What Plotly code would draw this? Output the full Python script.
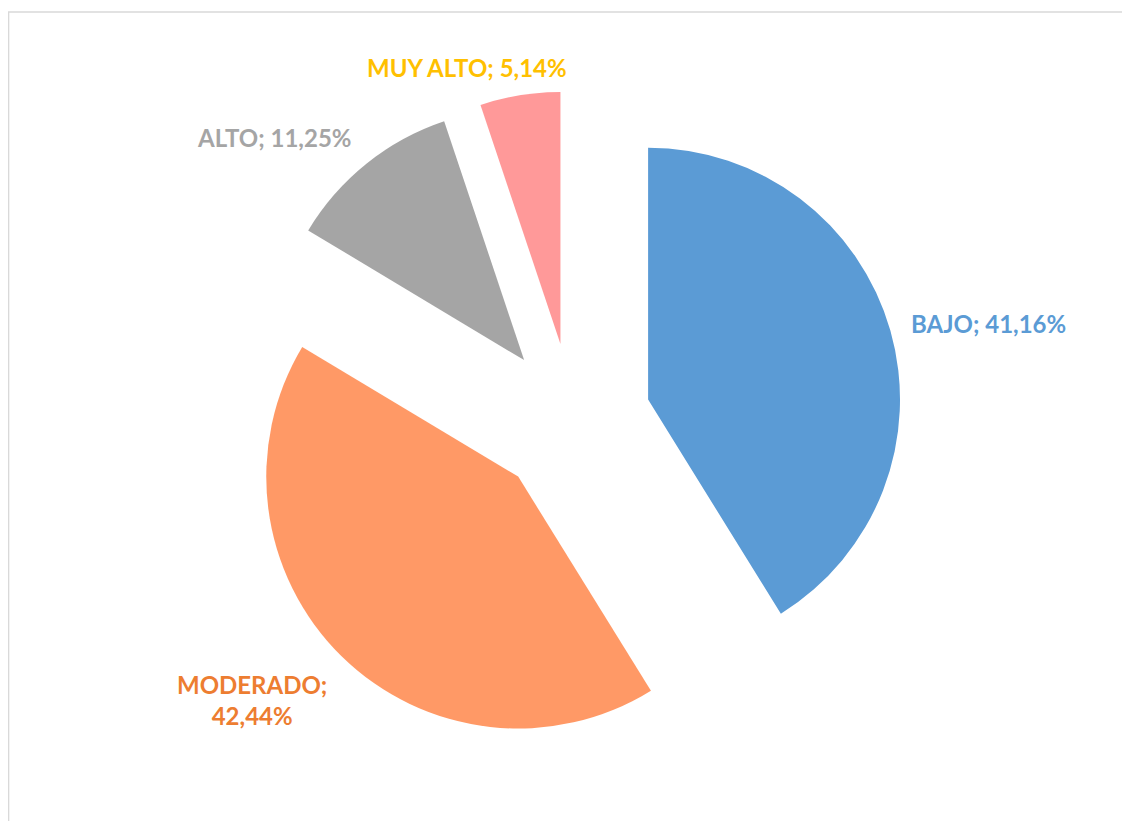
import plotly.graph_objects as go

categories = ["BAJO", "MODERADO", "ALTO", "MUY ALTO"]
values = [41.16, 42.44, 11.25, 5.14]
slice_colors = ["#5B9BD5", "#FF9966", "#A5A5A5", "#FF9999"]
label_colors = ["#5B9BD5", "#ED7D31", "#A5A5A5", "#FFC000"]
separators = ["; ", ";<br>", "; ", "; "]
# label centres on the page (pixels)
label_px = [(988, 323), (252, 700), (274, 138), (466.5, 67.5)]

texts = [f"{c}{s}{v:.2f}%".replace(".", ",") for c, s, v in zip(categories, separators, values)]

W, H = 1130, 821
OFF = 8  # page body margin
fig = go.Figure(go.Pie(
    labels=categories,
    values=values,
    textinfo="none",
    automargin=False,
    sort=False,
    direction="clockwise",
    rotation=0,
    pull=[0.31] * 4,
    marker=dict(colors=slice_colors, line=dict(width=0)),
    domain=dict(x=[(243 - OFF) / W, (903 - OFF) / W], y=[1 - (751 - OFF) / H, 1 - (91 - OFF) / H]),
    hoverinfo="skip",
    showlegend=False,
))

annotations = []
for t, col, (px, py) in zip(texts, label_colors, label_px):
    annotations.append(dict(
        text=t, xref="paper", yref="paper",
        x=(px - OFF) / W, y=1 - (py - OFF) / H,
        xanchor="center", yanchor="middle", align="center",
        showarrow=False,
        font=dict(family="Lato", size=24, color=col, weight="bold"),
    ))

fig.update_layout(
    width=W, height=H,
    autosize=False,
    margin=dict(l=0, r=0, t=0, b=0, pad=0, autoexpand=False),
    paper_bgcolor="white",
    plot_bgcolor="white",
    showlegend=False,
    annotations=annotations,
    shapes=[dict(type="rect", xref="paper", yref="paper",
                 x0=0.0005, x1=1.0, y0=0.0, y1=1 - 4 / H,
                 line=dict(color="#D9D9D9", width=1.5))],
)

fig.write_html("out.html")
